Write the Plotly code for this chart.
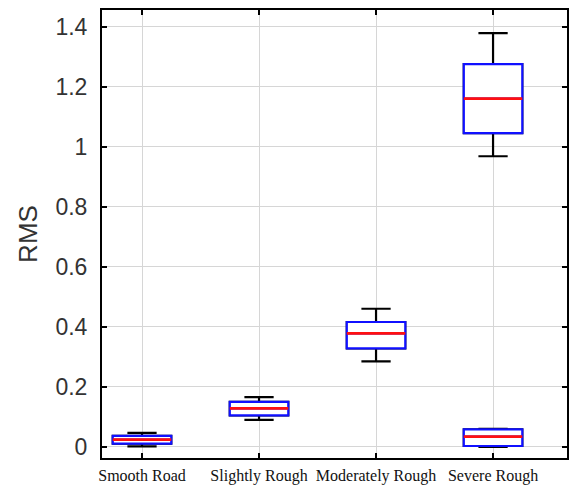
import plotly.graph_objects as go

categories = ["Smooth Road", "Slightly Rough", "Moderately Rough", "Severe Rough"]
box_x = ["Smooth Road", "Slightly Rough", "Moderately Rough", "Severe Rough", "Severe Rough"]
q1 = [0.011, 0.105, 0.328, 1.045, 0.003]
median = [0.024, 0.128, 0.378, 1.160, 0.034]
q3 = [0.037, 0.150, 0.416, 1.275, 0.058]
lower = [0.002, 0.090, 0.285, 0.968, 0.000]
upper = [0.047, 0.166, 0.460, 1.378, 0.060]
y_ticks = [0, 0.2, 0.4, 0.6, 0.8, 1, 1.2, 1.4]
y_ticktext = ["0", "0.2", "0.4", "0.6", "0.8", "1", "1.2", "1.4"]

fig = go.Figure()
# whiskers (black)
fig.add_trace(go.Box(
    x=box_x, q1=q1, median=median, q3=q3, lowerfence=lower, upperfence=upper,
    width=0.5, whiskerwidth=0.5, line=dict(color="black", width=2.2),
    fillcolor="white", hoverinfo="skip", showlegend=False,
))
# box outline (blue)
fig.add_trace(go.Box(
    x=box_x, q1=q1, median=median, q3=q3, lowerfence=q1, upperfence=q3,
    width=0.5, whiskerwidth=0.5, line=dict(color="#1010ff", width=2.2),
    fillcolor="white", hoverinfo="skip", showlegend=False,
))
# median (red)
fig.add_trace(go.Box(
    x=box_x, q1=median, median=median, q3=median, lowerfence=median, upperfence=median,
    width=0.5, whiskerwidth=0.5, line=dict(color="#ff1010", width=2.8),
    fillcolor="rgba(0,0,0,0)", hoverinfo="skip", showlegend=False,
))

fig.update_layout(
    width=573, height=480,
    margin=dict(l=94, r=14, t=2, b=30),
    paper_bgcolor="white", plot_bgcolor="white",
    boxmode="overlay",
    xaxis=dict(
        type="category", categoryorder="array", categoryarray=categories,
        range=[-0.342, 3.632], automargin=False,
        showgrid=True, gridcolor="#d6d6d6", gridwidth=1,
        showline=True, linecolor="black", linewidth=2, mirror="ticks",
        ticks="inside", ticklen=5, tickcolor="black", tickwidth=1.5,
        tickfont=dict(family="Liberation Serif, Times New Roman, serif", size=16, color="#111"),
        ticklabelstandoff=2,
        zeroline=False,
    ),
    yaxis=dict(
        range=[-0.037, 1.455], automargin=False,
        tickvals=y_ticks, ticktext=y_ticktext,
        showgrid=True, gridcolor="#d6d6d6", gridwidth=1,
        showline=True, linecolor="black", linewidth=2, mirror="ticks",
        ticks="inside", ticklen=5, tickcolor="black", tickwidth=1.5,
        tickfont=dict(family="Liberation Sans, Arial, sans-serif", size=23, color="#333"),
        ticklabelstandoff=8,
        zeroline=False,
        title=dict(text="RMS", font=dict(family="Liberation Sans, Arial, sans-serif", size=26, color="#333"), standoff=10),
    ),
)

fig.write_html("out.html")
